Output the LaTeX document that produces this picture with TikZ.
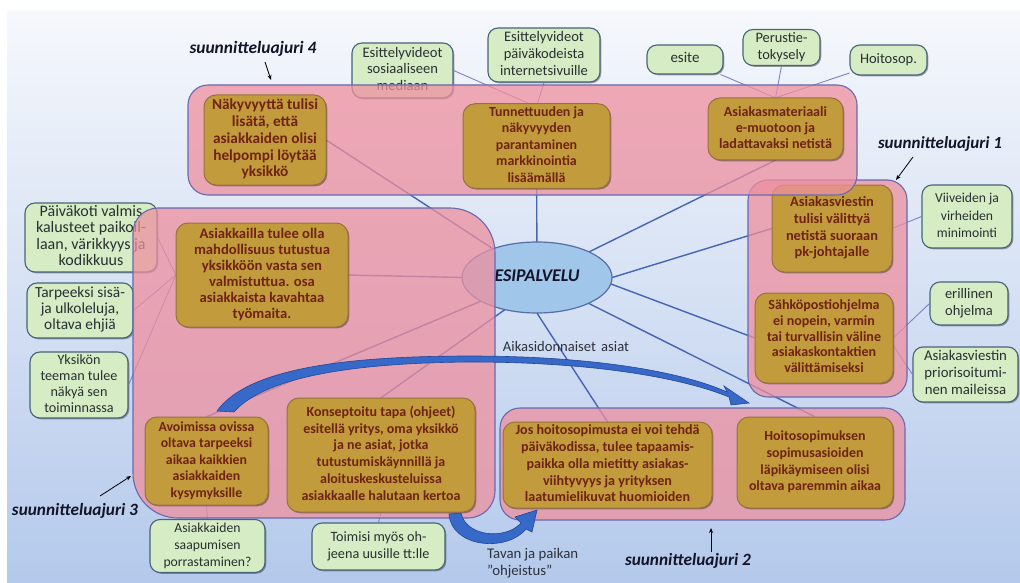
\documentclass[tikz,border=0pt]{standalone}
\usepackage{fontspec}
\setmainfont{Carlito}
\usetikzlibrary{shapes.geometric,shadows,arrows.meta}

\definecolor{bgtop}{RGB}{246,248,252}
\definecolor{bgbot}{RGB}{180,201,235}
\definecolor{pinkfill}{RGB}{238,143,159}
\definecolor{pinkedge}{RGB}{105,105,175}
\definecolor{goldfill}{RGB}{194,155,60}
\definecolor{goldedge}{RGB}{150,115,62}
\definecolor{goldtext}{RGB}{112,34,20}
\definecolor{greenfill}{RGB}{214,236,196}
\definecolor{greenedge}{RGB}{72,100,122}
\definecolor{greentext}{RGB}{40,48,50}
\definecolor{hubline}{RGB}{70,100,180}
\definecolor{subline}{RGB}{130,128,195}
\definecolor{hubfill}{RGB}{160,198,234}
\definecolor{hubedge}{RGB}{85,110,170}
\definecolor{arrowblue}{RGB}{55,105,200}
\definecolor{arrowedge}{RGB}{35,70,150}
\definecolor{tagtext}{RGB}{20,20,40}
\definecolor{plaintext}{RGB}{45,50,60}

% Typeset a block of lines so that its widest line is #2 pt wide,
% with a line pitch of #3 pt; #1 is the column alignment (c or l).
\newlength\fitwd
\newcommand\fitbox[4][c]{%
  \settowidth\fitwd{\fontsize{10pt}{12pt}\selectfont\begin{tabular}{@{}#1@{}}#4\end{tabular}}%
  \pgfmathsetmacro\fitsize{10*#2/\fitwd}%
  \fontsize{\fitsize pt}{#3 pt}\selectfont
  \begin{tabular}{@{}#1@{}}#4\end{tabular}}

\begin{document}
\begin{tikzpicture}[x=1pt,y=-1pt,
  idea/.style={draw=goldedge, line width=1pt, fill=goldfill, rounded corners=12pt,
    text=goldtext, font=\bfseries, inner sep=1pt,
    drop shadow={shadow xshift=1.3pt, shadow yshift=-1.3pt, opacity=0.35, fill=black}},
  note/.style={draw=greenedge, line width=1.1pt, fill=greenfill, rounded corners=10pt,
    text=greentext, inner sep=1pt,
    drop shadow={shadow xshift=1.3pt, shadow yshift=-1.3pt, opacity=0.35, fill=black}},
  group/.style={draw=pinkedge, line width=1.1pt, fill=pinkfill, fill opacity=0.75,
    rounded corners=20pt},
  hub/.style={draw=hubline, line width=1.4pt},
  sub/.style={draw=subline, line width=0.9pt},
  tag/.style={text=tagtext, font=\bfseries\itshape, inner sep=0pt},
  pointer/.style={draw=black, line width=0.8pt, -{Stealth[length=5pt,width=4pt]}},
  bigarrow/.style={fill=arrowblue, draw=arrowedge, line width=0.6pt, sharp corners}
]
\useasboundingbox (0,0) rectangle (1020,583);

% slide background
\fill[white] (0,0) rectangle (1020,583);
\shade[top color=bgtop, bottom color=bgbot] (7,11) rectangle (1020,583);

% ---------- invisible anchors for the layout ----------
\path node[ellipse, minimum width=150pt, minimum height=71pt, inner sep=0pt] (hub) at (537,277.5) {};
% planning driver 4
\path node[minimum width=122pt, minimum height=90pt, inner sep=0pt] (n4a) at (265,140) {};
\path node[minimum width=147pt, minimum height=78pt, inner sep=0pt] (n4b) at (536.5,146) {};
\path node[minimum width=135pt, minimum height=62pt, inner sep=0pt] (n4c) at (775.5,129) {};
% planning driver 1
\path node[minimum width=120pt, minimum height=87pt, inner sep=0pt] (n1a) at (832,228.5) {};
\path node[minimum width=138pt, minimum height=90pt, inner sep=0pt] (n1b) at (824,338) {};
% planning driver 3
\path node[minimum width=172pt, minimum height=104pt, inner sep=0pt] (n3a) at (262,275) {};
\path node[minimum width=123pt, minimum height=88pt, inner sep=0pt] (n3b) at (206.5,461) {};
\path node[minimum width=188pt, minimum height=114pt, inner sep=0pt] (n3c) at (381,455) {};
% planning driver 2
\path node[minimum width=209pt, minimum height=86pt, inner sep=0pt] (n2a) at (607.5,465) {};
\path node[minimum width=156pt, minimum height=91pt, inner sep=0pt] (n2b) at (815,462.5) {};

% ---------- connectors from the hub ----------
\draw[hub] (hub) -- (n4a.east);
\draw[hub] (hub) -- (n4b);
\draw[hub] (hub) -- (n4c.south);
\draw[hub] (hub.east) -- (n1a.west);
\draw[hub] (hub.-5) -- (n1b.west);
\draw[hub] (hub) -- (n2b.north);
\draw[hub] (hub.south) -- (n2a.north);
\draw[hub] (hub.west) -- (n3a.east);
\draw[hub] (hub) -- (n3b.north);
\draw[hub] (hub.225) -- (n3c.north);

% ---------- supporting notes ----------
\node[note, minimum width=101pt, minimum height=55pt] (gsom) at (402.5,70.5) {\fitbox{80}{16.7}{Esittelyvideot\\sosiaaliseen\\mediaan}};
\node[note, minimum width=112pt, minimum height=54pt] (gweb) at (544,55) {\fitbox{88}{17}{Esittelyvideot\\päiväkodeista\\internetsivuille}};
\node[note, minimum width=76pt, minimum height=29pt] (gesite) at (685,59.5) {\fitbox{29}{17}{esite}};
\node[note, minimum width=77pt, minimum height=31pt] (gkysely) at (781.5,47.5) {\fitbox{52}{17}{Perustie-\\tokysely}};
\node[note, minimum width=77pt, minimum height=30pt] (ghoito) at (888.5,60) {\fitbox{57}{17}{Hoitosop.}};
\node[note, minimum width=90pt, minimum height=63pt] (gviive) at (967,216.5) {\fitbox{64}{17.5}{Viiveiden ja\\virheiden\\minimointi}};
\node[note, minimum width=78pt, minimum height=43pt] (gerill) at (969,303.5) {\fitbox{48}{17}{erillinen\\ohjelma}};
\node[note, minimum width=105pt, minimum height=55pt] (gprior) at (965.5,374.5) {\fitbox{83}{17}{Asiakasviestin\\priorisoitumi-\\nen maileissa}};
\node[note, minimum width=132pt, minimum height=69pt] (gkalust) at (91,237.5) {\fitbox{110}{16.5}{Päiväkoti valmis\\kalusteet paikoil-\\laan, värikkyys ja\\kodikkuus}};
\node[note, minimum width=106pt, minimum height=55pt] (glelut) at (80,310.5) {\fitbox{90}{16}{Tarpeeksi sisä-\\ja ulkoleluja,\\oltava ehjiä}};
\node[note, minimum width=98pt, minimum height=64pt] (gteema) at (79,385) {\fitbox{77}{16}{Yksikön\\teeman tulee\\näkyä sen\\toiminnassa}};
\node[note, minimum width=115pt, minimum height=52pt] (gporras) at (207.5,546) {\fitbox{88}{17}{Asiakkaiden\\saapumisen\\porrastaminen?}};
\node[note, minimum width=133pt, minimum height=47pt] (gohje) at (378.5,546.5) {\fitbox{102}{17}{Toimisi myös oh-\\jeena uusille tt:lle}};

% connectors from notes
\draw[sub] (gsom.east) -- (n4b.north);
\draw[sub] (gweb.south) -- (n4b.north);
\draw[sub] (gesite) -- (n4c.north);
\draw[sub] (gkysely.south) -- (n4c.north);
\draw[sub] (ghoito) -- (n4c.north);
\draw[sub] (gviive.west) -- (n1a.east);
\draw[sub] (gerill.west) -- (n1b.east);
\draw[sub] (gprior.west) -- (n1b.-6);
\draw[sub] (gkalust.east) -- (n3a.west);
\draw[sub] (glelut.east) -- (n3a.west);
\draw[sub] (gteema.east) -- (n3a.west);
\draw[sub] (gporras.north) -- (n3b.south);
\draw[sub] (gohje.north) -- (n3c.south);

% hub ellipse
\node[ellipse, draw=hubedge, line width=1.2pt, fill=hubfill, minimum width=150pt,
  minimum height=71pt, inner sep=0pt, text=tagtext, font=\bfseries\itshape]
  (hubface) at (hub) {\fitbox{85}{19}{ESIPALVELU}};

% ---------- planning driver 1 ----------
\path[group] (748,180) rectangle (907,397);
\node[idea, minimum width=120pt, minimum height=87pt] (b1a) at (n1a) {\fitbox{92}{16.7}{Asiakasviestin\\tulisi välittyä\\netistä suoraan\\pk-johtajalle}};
\node[idea, minimum width=138pt, minimum height=90pt] (b1b) at (n1b) {\fitbox{114}{15.8}{Sähköpostiohjelma\\ei nopein, varmin\\tai turvallisin väline\\asiakaskontaktien\\välittämiseksi}};

% ---------- planning driver 4 ----------
\path[group] (188,85) rectangle (857,195);
\node[idea, minimum width=122pt, minimum height=90pt] (b4a) at (n4a) {\fitbox{106}{16.7}{Näkyvyyttä tulisi\\lisätä, että\\asiakkaiden olisi\\helpompi löytää\\yksikkö}};
\node[idea, minimum width=147pt, minimum height=78pt] (b4b) at (n4b) {\fitbox{95}{16.5}{Tunnettuuden ja\\näkyvyyden\\parantaminen\\markkinointia\\lisäämällä}};
\node[idea, minimum width=135pt, minimum height=62pt] (b4c) at (n4c) {\fitbox{113}{16}{Asiakasmateriaali\\e-muotoon ja\\ladattavaksi netistä}};

% ---------- planning driver 3 (corners of different radii) ----------
\path[group, sharp corners] (133,233) .. controls (133,219.2) and (144.2,208) .. (158,208)
  -- (450,208) .. controls (474.9,208) and (495,228.1) .. (495,253)
  -- (495,491) .. controls (495,505.9) and (482.9,518) .. (468,518)
  -- (178,518) .. controls (153.1,518) and (133,497.9) .. (133,473) -- cycle;
\node[idea, minimum width=172pt, minimum height=104pt] (b3a) at (n3a) {\fitbox{136}{16}{Asiakkailla tulee olla\\mahdollisuus tutustua\\yksikköön vasta sen\\valmistuttua. osa\\asiakkaista kavahtaa\\työmaita.}};
\node[idea, minimum width=123pt, minimum height=88pt] (b3b) at (n3b) {\fitbox{96}{16.5}{Avoimissa ovissa\\oltava tarpeeksi\\aikaa kaikkien\\asiakkaiden\\kysymyksille}};
\node[idea, minimum width=188pt, minimum height=114pt] (b3c) at (n3c) {\fitbox{159}{16.8}{Konseptoitu tapa (ohjeet)\\esitellä yritys, oma yksikkö\\ja ne asiat, jotka\\tutustumiskäynnillä ja\\aloituskeskusteluissa\\asiakkaalle halutaan kertoa}};

% ---------- planning driver 2 ----------
\path[group] (500,408) rectangle (905,520);
\node[idea, minimum width=209pt, minimum height=86pt] (b2a) at (n2a) {\fitbox{184}{16.75}{Jos hoitosopimusta ei voi tehdä\\päiväkodissa, tulee tapaamis-\\paikka olla mietitty asiakas-\\viihtyvyys ja yrityksen\\laatumielikuvat huomioiden}};
\node[idea, minimum width=156pt, minimum height=91pt] (b2b) at (n2b) {\fitbox{132}{16.7}{Hoitosopimuksen\\sopimusasioiden\\läpikäymiseen olisi\\oltava paremmin aikaa}};

% ---------- curved block arrows ----------
% time-bound issues: from the open-house box towards driver 2
\path[bigarrow] (217,411) .. controls (245,372) and (330,356) .. (470,356)
  .. controls (590,356) and (680,371) .. (727,392)
  -- (724,386) -- (749,403) -- (731,405) -- (729,397)
  .. controls (680,377) and (590,362) .. (470,362)
  .. controls (340,363) and (262,380) .. (234,412) -- cycle;
% guidance of manner and place
\path[bigarrow] (449,514) .. controls (451,547) and (506,553) .. (526,529)
  -- (532,532) -- (537,510) -- (515,517) -- (521,523)
  .. controls (506,540) and (466,537) .. (461,513) -- cycle;

% ---------- labels ----------
\node[text=plaintext, inner sep=0pt] (aika) at (566,348) {\fitbox{127}{17}{Aikasidonnaiset\hspace{2pt} asiat}};
\node[text=plaintext, inner sep=0pt, anchor=west] (tapa) at (487,564) {\fitbox[l]{91}{17}{Tavan ja paikan\\”ohjeistus”}};

\node[tag] (t4) at (253,50) {\fitbox{127}{19}{suunnitteluajuri 4}};
\node[tag] (t1) at (940,145) {\fitbox{124}{19}{suunnitteluajuri 1}};
\node[tag] (t3) at (75,512) {\fitbox{126}{19}{suunnitteluajuri 3}};
\node[tag] (t2) at (688,562) {\fitbox{126}{19}{suunnitteluajuri 2}};

\coordinate (t4tail) at (265,62);  \coordinate (t4tip) at (271,80);
\coordinate (t1tail) at (913,157); \coordinate (t1tip) at (896,180);
\coordinate (t3tail) at (100,496); \coordinate (t3tip) at (131,476);
\coordinate (t2tail) at (711,552); \coordinate (t2tip) at (711,528);
\draw[pointer] (t4tail) -- (t4tip);
\draw[pointer] (t1tail) -- (t1tip);
\draw[pointer] (t3tail) -- (t3tip);
\draw[pointer] (t2tail) -- (t2tip);
\end{tikzpicture}
\end{document}
